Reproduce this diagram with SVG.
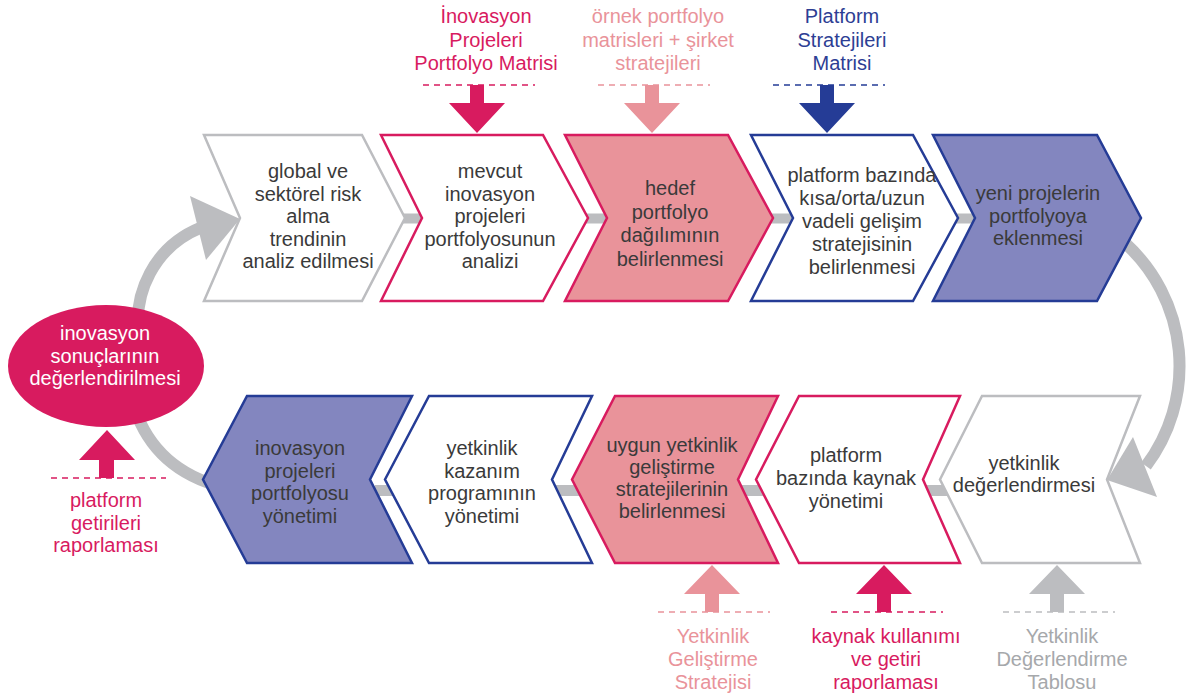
<svg xmlns="http://www.w3.org/2000/svg" width="1188" height="698" viewBox="0 0 1188 698">
  <style>
    text { font-family: "Liberation Sans", Arial, sans-serif; font-size: 20px; text-anchor: middle; }
    .dark { fill: #3a3a3a; }
    .white { fill: #ffffff; }
    .chev { stroke-width: 2.5; stroke-linejoin: miter; }
    .s-gray { stroke: #bcbdc0; fill: #ffffff; }
    .s-red { stroke: #d81b5f; fill: #ffffff; }
    .s-red-pink { stroke: #d81b5f; fill: #e9939a; }
    .s-blue { stroke: #253c96; fill: #ffffff; }
    .s-blue-purple { stroke: #253c96; fill: #8386bf; }
    .bar { fill: #bcbdc0; }
    .arc { fill: none; stroke: #bcbdc0; stroke-width: 12; }
    .dash { fill: none; stroke-width: 1.6; stroke-dasharray: 6 5; }
    .c-red { fill: #d81b5f; }
    .c-pink { fill: #e9939a; }
    .c-blue { fill: #253c96; }
    .c-gray { fill: #bcbdc0; }
    .t-red { fill: #d81b5f; }
    .t-pink { fill: #e9939a; }
    .t-blue { fill: #2d3e94; }
    .t-gray { fill: #a6a8ab; }
  </style>

  <!-- flow connectors: bars between steps and the loop arcs -->
  <g id="connectors">
    <rect class="bar" x="390" y="213.5" width="600" height="10"/>
    <rect class="bar" x="375" y="485" width="585" height="11"/>
    <path class="arc" d="M140,340 A100,100 0 0 1 200,228"/>
    <polygon class="c-gray" points="190,196 240,219 206,260"/>
    <path class="arc" d="M132,400 Q150,465 215,485"/>
    <path class="arc" d="M1125,243 A166,166 0 0 1 1146,466"/>
    <polygon class="c-gray" points="1133,437 1107,480 1157,497"/>
  </g>

  <!-- top row -->
  <g id="step-global-risk">
    <polygon class="chev s-gray" points="204,135 362,135 405,218 362,301 204,301 240,218"/>
    <text class="dark"><tspan x="308" y="178">global ve</tspan><tspan x="308" y="200.5">sektörel risk</tspan><tspan x="308" y="223">alma</tspan><tspan x="308" y="245.5">trendinin</tspan><tspan x="308" y="268">analiz edilmesi</tspan></text>
  </g>
  <g id="step-mevcut-analiz">
    <polygon class="chev s-red" points="381,135 543,135 588,218 543,301 381,301 422,218"/>
    <text class="dark"><tspan x="490" y="178">mevcut</tspan><tspan x="490" y="200.5">inovasyon</tspan><tspan x="490" y="223">projeleri</tspan><tspan x="490" y="245.5">portfolyosunun</tspan><tspan x="490" y="268">analizi</tspan></text>
  </g>
  <g id="step-hedef-dagilim">
    <polygon class="chev s-red-pink" points="565,135 728,135 773,218 728,301 565,301 607,218"/>
    <text class="dark"><tspan x="670" y="195">hedef</tspan><tspan x="670" y="218.5">portfolyo</tspan><tspan x="670" y="242">dağılımının</tspan><tspan x="670" y="265.5">belirlenmesi</tspan></text>
  </g>
  <g id="step-platform-strateji">
    <polygon class="chev s-blue" points="751,135 913,135 958,218 913,301 751,301 793,218"/>
    <text class="dark"><tspan x="862" y="181.5">platform bazında</tspan><tspan x="862" y="204.5">kısa/orta/uzun</tspan><tspan x="862" y="227.5">vadeli gelişim</tspan><tspan x="862" y="250.5">stratejisinin</tspan><tspan x="862" y="273.5">belirlenmesi</tspan></text>
  </g>
  <g id="step-yeni-projeler">
    <polygon class="chev s-blue-purple" points="933,135 1097,135 1141,218 1097,301 933,301 975,218"/>
    <text class="dark"><tspan x="1038" y="200">yeni projelerin</tspan><tspan x="1038" y="222.5">portfolyoya</tspan><tspan x="1038" y="245">eklenmesi</tspan></text>
  </g>

  <!-- bottom row -->
  <g id="step-yetkinlik-degerlendirme">
    <polygon class="chev s-gray" points="940,479.5 982,396 1140,396 1107,479.5 1140,563 982,563"/>
    <text class="dark"><tspan x="1024" y="470">yetkinlik</tspan><tspan x="1024" y="492">değerlendirmesi</tspan></text>
  </g>
  <g id="step-kaynak-yonetimi">
    <polygon class="chev s-red" points="756,479.5 799,396 960,396 923,479.5 960,563 799,563"/>
    <text class="dark"><tspan x="846" y="462">platform</tspan><tspan x="846" y="485">bazında kaynak</tspan><tspan x="846" y="508">yönetimi</tspan></text>
  </g>
  <g id="step-gelistirme-strateji">
    <polygon class="chev s-red-pink" points="572,479.5 615,396 778,396 738,479.5 778,563 615,563"/>
    <text class="dark"><tspan x="672" y="452">uygun yetkinlik</tspan><tspan x="672" y="474">geliştirme</tspan><tspan x="672" y="496">stratejilerinin</tspan><tspan x="672" y="518">belirlenmesi</tspan></text>
  </g>
  <g id="step-kazanim-programi">
    <polygon class="chev s-blue" points="385,479.5 429,396 592,396 552,479.5 592,563 429,563"/>
    <text class="dark"><tspan x="482" y="455">yetkinlik</tspan><tspan x="482" y="477.7">kazanım</tspan><tspan x="482" y="500.3">programının</tspan><tspan x="482" y="523">yönetimi</tspan></text>
  </g>
  <g id="step-portfolyo-yonetimi">
    <polygon class="chev s-blue-purple" points="203,479.5 247,396 412,396 370,479.5 412,563 247,563"/>
    <text class="dark"><tspan x="300" y="455">inovasyon</tspan><tspan x="300" y="477.7">projeleri</tspan><tspan x="300" y="500.3">portfolyosu</tspan><tspan x="300" y="523">yönetimi</tspan></text>
  </g>

  <!-- loop start/end -->
  <g id="step-sonuc-degerlendirme">
    <ellipse cx="106" cy="366" rx="98" ry="61" fill="#d81b5f"/>
    <text class="white"><tspan x="105" y="340">inovasyon</tspan><tspan x="105" y="363">sonuçlarının</tspan><tspan x="105" y="385">değerlendirilmesi</tspan></text>
  </g>

  <!-- inputs feeding the top row -->
  <g id="input-inovasyon-matrisi">
    <text class="t-red"><tspan x="486" y="23">İnovasyon</tspan><tspan x="486" y="46.5">Projeleri</tspan><tspan x="486" y="70">Portfolyo Matrisi</tspan></text>
    <line class="dash" x1="423" y1="85" x2="535" y2="85" stroke="#d81b5f"/>
    <polygon class="c-red" points="470,85 484,85 484,103 505,103 477,133 449,103 470,103"/>
  </g>
  <g id="input-ornek-matrisler">
    <text class="t-pink"><tspan x="658" y="23">örnek portfolyo</tspan><tspan x="658" y="46.5">matrisleri + şirket</tspan><tspan x="658" y="70">stratejileri</tspan></text>
    <line class="dash" x1="598" y1="85" x2="710" y2="85" stroke="#e9939a"/>
    <polygon class="c-pink" points="645,85 659,85 659,103 680,103 652,133 624,103 645,103"/>
  </g>
  <g id="input-platform-matrisi">
    <text class="t-blue"><tspan x="842" y="23">Platform</tspan><tspan x="842" y="46.5">Stratejileri</tspan><tspan x="842" y="70">Matrisi</tspan></text>
    <line class="dash" x1="773" y1="85" x2="885" y2="85" stroke="#253c96"/>
    <polygon class="c-blue" points="820,85 834,85 834,103 855,103 827,133 799,103 820,103"/>
  </g>

  <!-- inputs feeding the bottom row -->
  <g id="input-gelistirme-stratejisi">
    <polygon class="c-pink" points="705,612 719,612 719,594 740,594 712,565 684,594 705,594"/>
    <line class="dash" x1="658" y1="612" x2="770" y2="612" stroke="#e9939a"/>
    <text class="t-pink"><tspan x="713" y="643">Yetkinlik</tspan><tspan x="713" y="666">Geliştirme</tspan><tspan x="713" y="689">Stratejisi</tspan></text>
  </g>
  <g id="input-kaynak-raporlama">
    <polygon class="c-red" points="877,612 891,612 891,594 912,594 884,565 856,594 877,594"/>
    <line class="dash" x1="831" y1="612" x2="943" y2="612" stroke="#d81b5f"/>
    <text class="t-red"><tspan x="886" y="643">kaynak kullanımı</tspan><tspan x="886" y="666">ve getiri</tspan><tspan x="886" y="689">raporlaması</tspan></text>
  </g>
  <g id="input-degerlendirme-tablosu">
    <polygon class="c-gray" points="1050,612 1064,612 1064,594 1085,594 1057,565 1029,594 1050,594"/>
    <line class="dash" x1="1003" y1="612" x2="1115" y2="612" stroke="#bcbdc0"/>
    <text class="t-gray"><tspan x="1062" y="643">Yetkinlik</tspan><tspan x="1062" y="666">Değerlendirme</tspan><tspan x="1062" y="689">Tablosu</tspan></text>
  </g>

  <!-- input feeding the evaluation step -->
  <g id="input-getiri-raporlama">
    <polygon class="c-red" points="99,478 114,478 114,460 135,460 107,430 79,460 99,460"/>
    <line class="dash" x1="51" y1="478" x2="166" y2="478" stroke="#d81b5f"/>
    <text class="t-red"><tspan x="106" y="507">platform</tspan><tspan x="106" y="530">getirileri</tspan><tspan x="106" y="552">raporlaması</tspan></text>
  </g>
</svg>
